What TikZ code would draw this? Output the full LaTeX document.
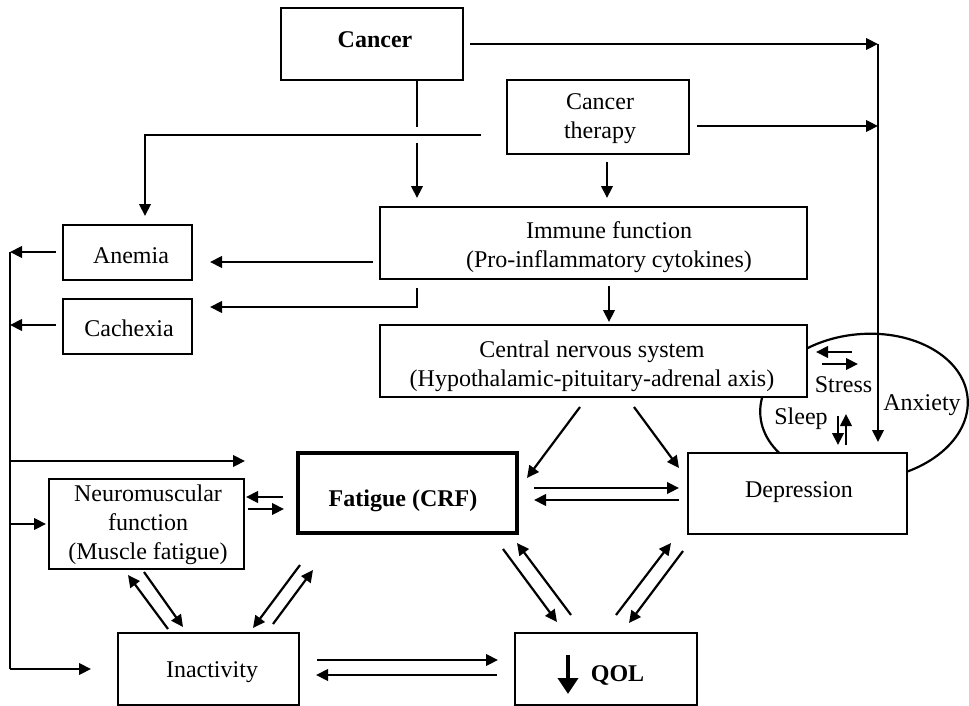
\documentclass[tikz,border=0pt]{standalone}
\usepackage{fontspec}
\setmainfont{Liberation Serif}
\usetikzlibrary{arrows.meta}
\newcommand{\myfs}{\fontsize{24}{29}\selectfont}
\begin{document}
\begin{tikzpicture}[x=1pt,y=-1pt,
  box/.style={draw, line width=2.3pt, fill=white, inner sep=0pt},
  txt/.style={font=\myfs, align=center, inner sep=0pt},
  arr/.style={line width=2.2pt, -{Triangle[length=12pt,width=11.5pt]}},
  ln/.style={line width=2.2pt}]
\useasboundingbox (0,0) rectangle (969,706);

% loop around Stress / Sleep / Anxiety (partly hidden by the boxes)
\draw[line width=2.2pt, rotate around={5:(864,407)}] (864,407) ellipse [x radius=104, y radius=73];

% boxes
\node[box, line width=2.6pt, minimum width=182pt, minimum height=72pt] (cancer) at (372,44) {};
\node[box, minimum width=182pt, minimum height=74pt] (therapy) at (598,117) {};
\node[box, minimum width=427pt, minimum height=72pt] (immune) at (593.5,243) {};
\node[box, minimum width=427pt, minimum height=72pt] (cns) at (593.5,361) {};
\node[box, minimum width=129pt, minimum height=55pt] (anemia) at (127.5,252.5) {};
\node[box, minimum width=129pt, minimum height=55pt] (cachexia) at (127.5,326.5) {};
\node[box, minimum width=195pt, minimum height=90pt] (neuro) at (146.5,524) {};
\node[box, line width=3.2pt, minimum width=219pt, minimum height=80pt] (fatigue) at (407.5,493) {};
\node[box, minimum width=219pt, minimum height=81pt] (depr) at (797.5,493.5) {};
\node[box, minimum width=181pt, minimum height=72pt] (inact) at (208.5,669) {};
\node[box, minimum width=182pt, minimum height=72pt] (qol) at (606,669) {};

% texts
\node[txt] (cancer-t) at (375,40) {\bfseries Cancer};
\node[txt] (therapy-t) at (600,118.5) {Cancer\\therapy};
\node[txt] (immune-t) at (609,247.5) {Immune function\\(Pro-inflammatory cytokines)};
\node[txt] (cns-t) at (592,366) {Central nervous system\\(Hypothalamic-pituitary-adrenal axis)};
\node[txt] (anemia-t) at (131,256) {Anemia};
\node[txt] (cachexia-t) at (129,328.5) {Cachexia};
\node[txt] (neuro-t) at (148,525) {Neuromuscular\\function\\(Muscle fatigue)};
\node[txt] (fatigue-t) at (403,501) {\bfseries Fatigue (CRF)};
\node[txt] (depr-t) at (799,492.5) {Depression};
\node[txt] (inact-t) at (212,672) {Inactivity};
\node[txt] (qol-t) at (617.5,675) {\bfseries QOL};
\node[txt] (stress-t) at (843.5,384.5) {Stress};
\node[txt] (sleep-t) at (801,418.5) {Sleep};
\node[txt] (anx-t) at (922,405) {Anxiety};

% coordinates for connector ends
\coordinate (c-r) at (470,44);
\coordinate (tr1) at (878,44);
\coordinate (tr2) at (878,126);
\coordinate (anx-end) at (878,442);
\coordinate (th-r) at (697,126);
\coordinate (cd1) at (417,80);
\coordinate (cd2) at (417,127);
\coordinate (cd3) at (417,143);
\coordinate (cd4) at (417,198);
\coordinate (th-l) at (481,135);
\coordinate (th-lc) at (145,135);
\coordinate (an-top) at (145,216);
\coordinate (th-d1) at (607,162);
\coordinate (th-d2) at (607,198);
\coordinate (im-l) at (373,262);
\coordinate (an-r) at (210,262);
\coordinate (im-b1) at (417,288);
\coordinate (im-b2) at (417,307);
\coordinate (ca-r) at (210,307);
\coordinate (im-d1) at (609,286);
\coordinate (im-d2) at (609,322);
\coordinate (an-l) at (56,252);
\coordinate (ca-l) at (56,325);
\coordinate (v-top) at (10,252);
\coordinate (v-ca) at (10,325);
\coordinate (v-f) at (10,461);
\coordinate (v-n) at (10,524);
\coordinate (v-bot) at (10,669);
\coordinate (f-l) at (245,461);
\coordinate (n-l) at (46,524);
\coordinate (i-l) at (91,669);

% top part
\draw[arr] (c-r) -- (tr1);
\draw[arr] (tr1) -- (anx-end);
\draw[arr] (th-r) -- (tr2);
\draw[ln] (cd1) -- (cd2);
\draw[arr] (cd3) -- (cd4);
\draw[arr] (th-l) -- (th-lc) -- (an-top);
\draw[arr] (th-d1) -- (th-d2);
\draw[arr] (im-l) -- (an-r);
\draw[arr] (im-b1) -- (im-b2) -- (ca-r);
\draw[arr] (im-d1) -- (im-d2);

% left collector line
\draw[arr] (an-l) -- (v-top);
\draw[arr] (ca-l) -- (v-ca);
\draw[ln] (v-top) -- (v-bot);
\draw[arr] (v-f) -- (f-l);
\draw[arr] (v-n) -- (n-l);
\draw[arr] (v-bot) -- (i-l);

% CNS to fatigue and depression
\draw[arr] (580,407) coordinate (cf1) -- (527,478) coordinate (cf2);
\draw[arr] (634,407) coordinate (cdp1) -- (679,468) coordinate (cdp2);

% paired arrows
\draw[arr] (283,497) coordinate (nf1) -- (246,497) coordinate (nf2);
\draw[arr] (248,509) coordinate (nf3) -- (284,509) coordinate (nf4);
\draw[arr] (534,488) coordinate (fd1) -- (679,488) coordinate (fd2);
\draw[arr] (679,500) coordinate (fd3) -- (534,500) coordinate (fd4);
\draw[arr] (168,629) coordinate (ni1) -- (128,575) coordinate (ni2);
\draw[arr] (144,572) coordinate (ni3) -- (183,627) coordinate (ni4);
\draw[arr] (300,565) coordinate (fi1) -- (253,628) coordinate (fi2);
\draw[arr] (273,624) coordinate (fi3) -- (313,570) coordinate (fi4);
\draw[arr] (503,549) coordinate (fq1) -- (557,622) coordinate (fq2);
\draw[arr] (571,615) coordinate (fq3) -- (517,543) coordinate (fq4);
\draw[arr] (616,615) coordinate (dq1) -- (671,543) coordinate (dq2);
\draw[arr] (683,551) coordinate (dq3) -- (629,623) coordinate (dq4);
\draw[arr] (317,660) coordinate (iq1) -- (498,660) coordinate (iq2);
\draw[arr] (497,675) coordinate (iq3) -- (316,675) coordinate (iq4);

% stress and sleep arrows
\draw[arr] (852,352) coordinate (s1) -- (816,352) coordinate (s2);
\draw[arr] (822,364) coordinate (s3) -- (858,364) coordinate (s4);
\draw[arr] (838,416) coordinate (sl1) -- (838,445) coordinate (sl2);
\draw[arr] (846,445) coordinate (sl3) -- (846,414) coordinate (sl4);

% big down arrow in QOL
\draw[line width=3.8pt, -{Triangle[length=16pt,width=20pt]}] (568,655) coordinate (qa1) -- (568,694) coordinate (qa2);
\end{tikzpicture}
\end{document}
